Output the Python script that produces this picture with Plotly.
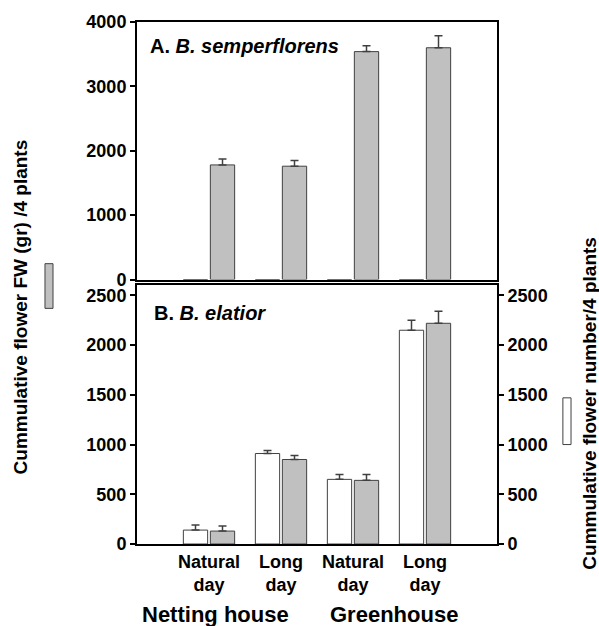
import plotly.graph_objects as go

positions = [1, 2, 3, 4]
tick_labels = ["Natural<br>day", "Long<br>day", "Natural<br>day", "Long<br>day"]

# Panel A: B. semperflorens (flower FW, gray)
a_number = [0, 0, 0, 0]
a_fw = [1780, 1760, 3540, 3600]
a_fw_err = [90, 90, 90, 185]

# Panel B: B. elatior
b_number = [140, 910, 650, 2150]
b_number_err = [50, 30, 50, 100]
b_fw = [130, 850, 640, 2220]
b_fw_err = [50, 40, 60, 120]

FONT = "Liberation Sans, Arial, sans-serif"
GRAY = "#c0c0c0"
EDGE = "#404040"
TICKFONT = dict(family=FONT, size=18, color="black", weight="bold")

def err(vals):
    return dict(type="data", symmetric=False, array=vals, arrayminus=[0] * len(vals),
                color=EDGE, thickness=1.5, width=4)

fig = go.Figure()
fig.add_trace(go.Bar(x=positions, y=a_number, xaxis="x", yaxis="y",
                     marker=dict(color="white", line=dict(color=EDGE, width=1))))
fig.add_trace(go.Bar(x=positions, y=a_fw, xaxis="x", yaxis="y", error_y=err(a_fw_err),
                     marker=dict(color=GRAY, line=dict(color=EDGE, width=1))))
fig.add_trace(go.Bar(x=positions, y=b_number, xaxis="x2", yaxis="y2", error_y=err(b_number_err),
                     marker=dict(color="white", line=dict(color=EDGE, width=1))))
fig.add_trace(go.Bar(x=positions, y=b_fw, xaxis="x2", yaxis="y2", error_y=err(b_fw_err),
                     marker=dict(color=GRAY, line=dict(color=EDGE, width=1))))
fig.add_trace(go.Scatter(x=[1], y=[0], xaxis="x2", yaxis="y3", mode="markers",
                         marker=dict(opacity=0), hoverinfo="skip"))

axis_common = dict(showline=True, linewidth=2, linecolor="black", showgrid=False, zeroline=False,
                   tickfont=TICKFONT)

fig.update_layout(
    width=599, height=626,
    margin=dict(l=137, r=102, t=19, b=82),
    plot_bgcolor="white", paper_bgcolor="white",
    showlegend=False,
    barmode="group", bargap=0.25, bargroupgap=0.1,
    font=dict(family=FONT, color="black"),
    xaxis=dict(domain=[0, 1], anchor="y", range=[0, 5], showticklabels=False, ticks="",
               mirror=True, **axis_common),
    yaxis=dict(domain=[0.5067, 1], anchor="x", range=[0, 4000], tickvals=[0, 1000, 2000, 3000, 4000],
               ticks="outside", ticklen=5, tickwidth=1.5, tickcolor="black", mirror=True, **axis_common),
    xaxis2=dict(domain=[0, 1], anchor="y2", range=[0, 5], tickvals=positions, ticktext=tick_labels,
                ticks="", mirror=True, **axis_common),
    yaxis2=dict(domain=[0, 0.4971], anchor="x2", range=[0, 2610], tickvals=[0, 500, 1000, 1500, 2000, 2500],
                ticks="outside", ticklen=5, tickwidth=1.5, tickcolor="black", **axis_common),
    yaxis3=dict(overlaying="y2", anchor="x2", side="right", range=[0, 2610],
                tickvals=[0, 500, 1000, 1500, 2000, 2500],
                ticks="outside", ticklen=5, tickwidth=1.5, tickcolor="black", **axis_common),
)

annotations = [
    dict(text="<b>A. <i>B. semperflorens</i></b>", xref="x domain", yref="y domain", x=0.03, y=0.907,
         xanchor="left", yanchor="middle", showarrow=False, font=dict(family=FONT, size=20)),
    dict(text="<b>B. <i>B. elatior</i></b>", xref="x2 domain", yref="y2 domain", x=0.042, y=0.889,
         xanchor="left", yanchor="middle", showarrow=False, font=dict(family=FONT, size=20)),
    dict(text="<b>Cummulative flower FW (gr) /4 plants</b>", xref="paper", yref="paper",
         x=-0.325, y=0.4533, textangle=-90, showarrow=False, xanchor="center", yanchor="middle",
         font=dict(family=FONT, size=19)),
    dict(text="<b>Cummulative flower number/4 plants</b>", xref="paper", yref="paper",
         x=1.258, y=0.2705, textangle=-90, showarrow=False, xanchor="center", yanchor="middle",
         font=dict(family=FONT, size=19)),
    dict(text="<b>Netting house</b>", xref="paper", yref="paper", x=0.217, y=-0.135,
         showarrow=False, xanchor="center", yanchor="middle", font=dict(family=FONT, size=22)),
    dict(text="<b>Greenhouse</b>", xref="paper", yref="paper", x=0.714, y=-0.135,
         showarrow=False, xanchor="center", yanchor="middle", font=dict(family=FONT, size=22)),
]
fig.update_layout(annotations=annotations)

fig.add_shape(type="rect", xref="paper", yref="paper", x0=-0.2556, x1=-0.2333, y0=0.4514, y1=0.537,
              fillcolor=GRAY, line=dict(color=EDGE, width=1))
fig.add_shape(type="rect", xref="paper", yref="paper", x0=1.183, x1=1.2056, y0=0.1905, y1=0.28,
              fillcolor="white", line=dict(color=EDGE, width=1))

fig.write_html("out.html")
